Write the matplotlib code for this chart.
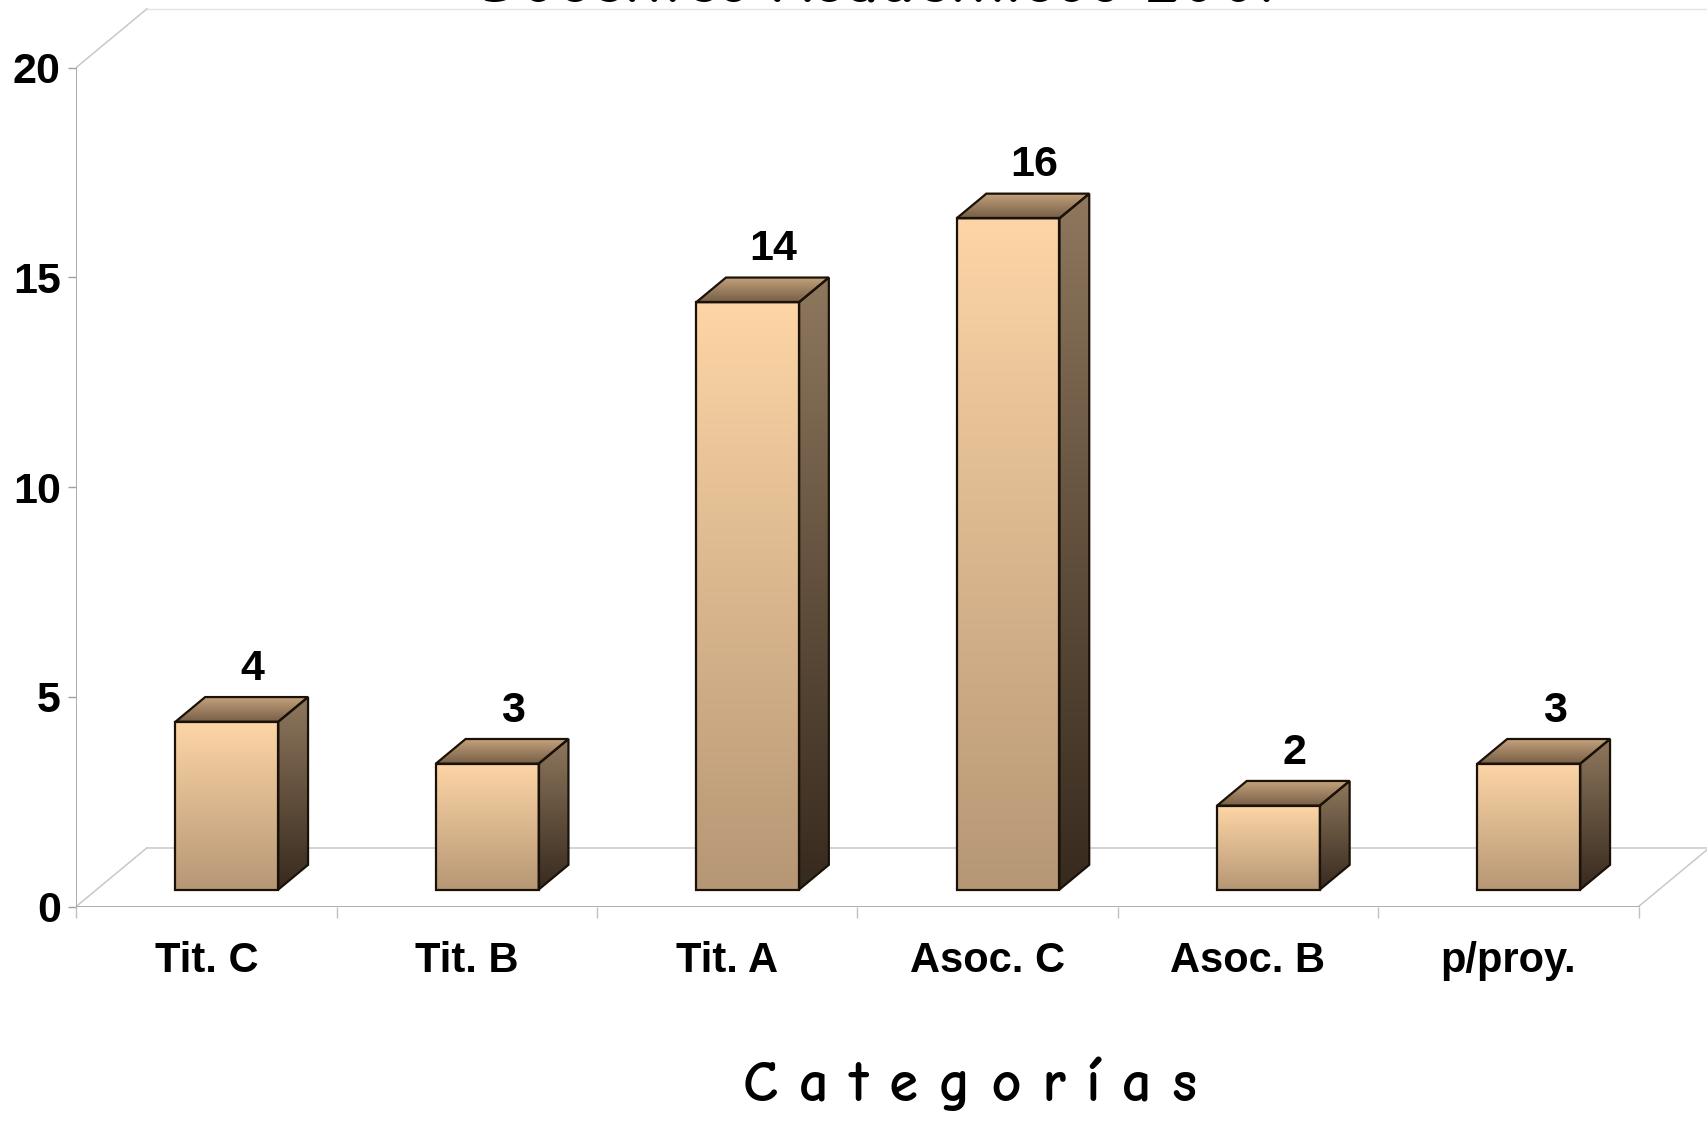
import numpy as np
import matplotlib.pyplot as plt
from matplotlib.patches import Polygon

# Data
categorias = ['Tit. C', 'Tit. B', 'Tit. A', 'Asoc. C', 'Asoc. B', 'p/proy.']
docentes = [4, 3, 14, 16, 2, 3]
y_ticks = [0, 5, 10, 15, 20]

titulo = 'Docentes Académicos 2007'
x_titulo = 'C a t e g o r í a s'

# oblique depth of the floor/back wall, in data units
DX, DY = 0.272, 1.40
BAR_W = 0.395
FRONT, BACK = 0.29, 0.71

num_font = ['Liberation Sans Narrow', 'Liberation Sans', 'DejaVu Sans']

fig = plt.figure(figsize=(17.07, 11.21), dpi=100)
ax = fig.add_axes([0.0446, 0.1913, 0.958, 0.8087])
ax.set_xlim(0, 6.28)
ax.set_ylim(0, 21.61)
for s in ax.spines.values():
    s.set_visible(False)


def proj(x, y, d):
    return (x + d * DX, y + d * DY)


def gradient_face(pts, c_top, c_bot, z):
    poly = Polygon(pts, closed=True, facecolor='none', edgecolor='#1a1208',
                   linewidth=1.6, zorder=z + 0.5)
    ax.add_patch(poly)
    xs = [p[0] for p in pts]
    ys = [p[1] for p in pts]
    t = np.linspace(0, 1, 128)[:, None]
    c_top = np.array(c_top) / 255.0
    c_bot = np.array(c_bot) / 255.0
    grad = (c_top * (1 - t) + c_bot * t)[:, None, :]
    im = ax.imshow(grad, extent=(min(xs), max(xs), min(ys), max(ys)),
                   aspect='auto', origin='upper', zorder=z,
                   interpolation='bilinear')
    im.set_clip_path(poly)


# floor and back wall outlines
wall = dict(color='#c8c8c8', linewidth=1.1, zorder=1)
ax.plot([0, DX], [0, DY], **wall)
ax.plot([DX, 6 + DX], [DY, DY], **wall)
ax.plot([6, 6 + DX], [0, DY], **wall)
ax.plot([0, DX], [20, 20 + DY], **wall)
ax.plot([DX, 6.28], [20 + DY, 20 + DY], color='#e4e4e4', linewidth=1.0, zorder=1)
ax.plot([0, 0], [0, 20], color='#a0a0a0', linewidth=1.2, zorder=1)
ax.plot([0, 6], [0, 0], color='#a0a0a0', linewidth=1.2, zorder=1)

# bars
for i, v in enumerate(docentes):
    x0 = i + 0.5 - BAR_W / 2
    x1 = i + 0.5 + BAR_W / 2
    z = 3 + i
    front = [proj(x0, 0, FRONT), proj(x1, 0, FRONT),
             proj(x1, v, FRONT), proj(x0, v, FRONT)]
    side = [proj(x1, 0, FRONT), proj(x1, 0, BACK),
            proj(x1, v, BACK), proj(x1, v, FRONT)]
    top = [proj(x0, v, FRONT), proj(x1, v, FRONT),
           proj(x1, v, BACK), proj(x0, v, BACK)]
    gradient_face(front, (253, 213, 166), (182, 151, 117), z)
    gradient_face(side, (142, 119, 93), (55, 42, 30), z)
    gradient_face(top, (196, 162, 124), (118, 94, 70), z)
    lx, ly = proj(i + 0.5 - 0.015, v, BACK)
    ax.text(lx, ly + 0.2, str(v), ha='center', va='bottom',
            fontsize=31, fontweight='bold', family=num_font, zorder=20)

# axes ticks and labels
ax.set_yticks(y_ticks)
ax.set_yticklabels([str(t) for t in y_ticks], fontsize=31,
                   fontweight='bold', family=num_font)
ax.tick_params(axis='y', length=6, width=1, color='#a0a0a0', pad=5)
ax.set_xticks(range(7))
ax.set_xticklabels([''] * 7)
ax.tick_params(axis='x', which='major', length=8, width=1, color='#c0c0c0')
ax.set_xticks([i + 0.5 for i in range(6)], minor=True)
ax.set_xticklabels(categorias, minor=True, fontsize=30,
                   fontweight='bold', family=num_font)
ax.tick_params(axis='x', which='minor', length=0, pad=25)

fig.text(0.568, 0.032, x_titulo, ha='center', va='center', fontsize=42,
         fontweight='bold', family=['Comic Neue', 'DejaVu Sans'])
# title sits mostly above the top edge of the figure
fig.text(0.518, 0.9988, titulo, ha='center', va='baseline', fontsize=50,
         fontweight='bold', family=['Comic Neue', 'DejaVu Sans'])

fig.savefig('out.png', dpi=100)
